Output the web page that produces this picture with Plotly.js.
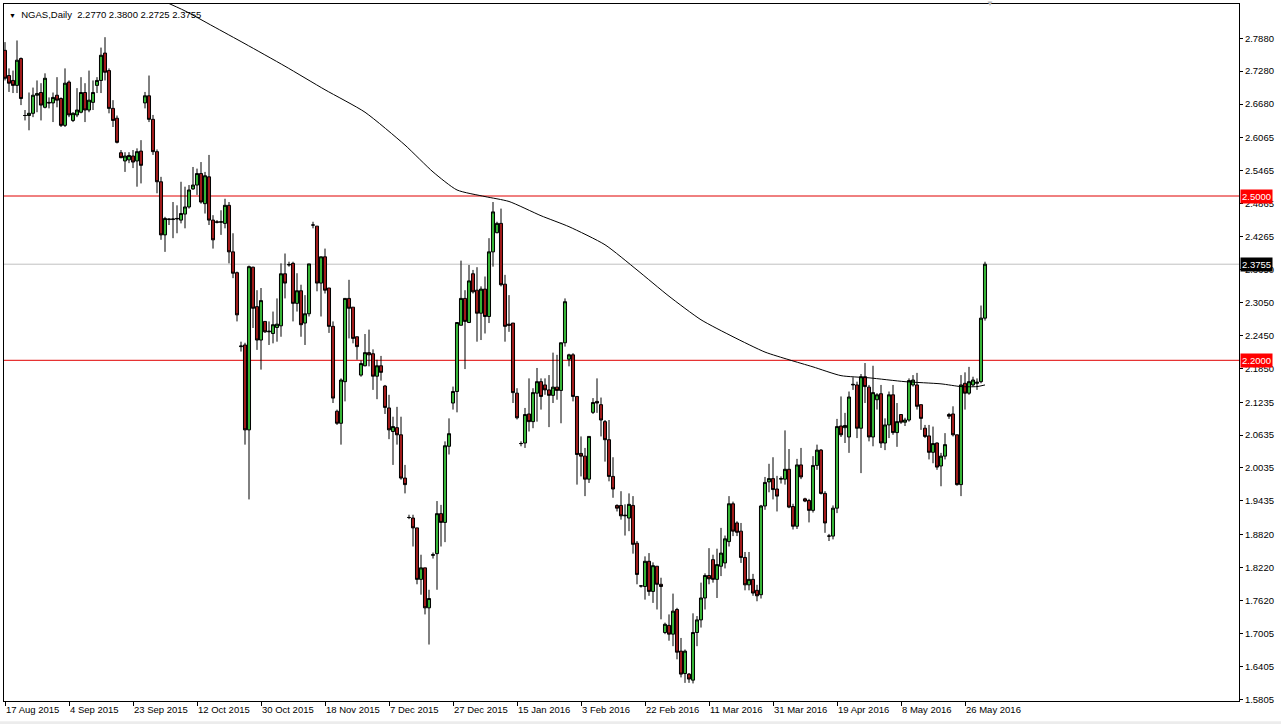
<!DOCTYPE html>
<html>
<head>
<meta charset="utf-8">
<script src="https://cdn.plot.ly/plotly-3.0.1.min.js"></script>
<style>
html,body{margin:0;padding:0;background:#fff;}
#chart{width:1281px;height:724px;}
</style>
</head>
<body>
<div id="chart"></div>
<script>
// ---- Data (NGAS, Daily) ----
const symbol = "NGAS,Daily";
const openP = [
2.766,2.720,2.711,2.702,2.751,2.647,2.647,2.651,2.684,2.689,
2.662,2.671,2.670,2.684,2.678,2.629,2.708,2.638,2.648,2.653,
2.689,2.657,2.671,2.702,2.711,2.761,2.729,2.660,2.642,2.579,
2.564,2.566,2.573,2.564,2.582,2.670,2.683,2.640,2.581,2.526,
2.429,2.457,2.457,2.458,2.456,2.467,2.480,2.513,2.520,2.541,
2.486,2.535,2.456,2.453,2.452,2.450,2.483,2.398,2.360,2.225,
2.228,2.073,2.370,2.298,2.237,2.271,2.252,2.249,2.260,2.263,
2.358,2.374,2.377,2.304,2.327,2.268,2.285,2.447,2.445,2.341,
2.389,2.332,2.262,2.107,2.085,2.161,2.313,2.297,2.243,2.173,
2.190,2.214,2.212,2.171,2.190,2.153,2.113,2.070,2.077,2.064,
1.985,1.913,1.912,1.894,1.800,1.821,1.748,1.844,1.847,1.920,
1.904,2.043,2.122,2.143,2.264,2.313,2.269,2.358,2.328,2.286,
2.330,2.280,2.398,2.433,2.450,2.339,2.266,2.268,2.140,2.048,
2.049,2.102,2.088,2.140,2.161,2.155,2.146,2.136,2.151,2.145,
2.232,2.202,2.210,2.134,2.030,2.025,1.983,2.105,2.125,2.119,
2.088,2.055,1.988,1.935,1.935,1.916,1.912,1.935,1.866,1.788,
1.787,1.833,1.778,1.824,1.791,1.703,1.716,1.700,1.745,1.669,
1.628,1.627,1.616,1.703,1.726,1.766,1.807,1.836,1.800,1.824,
1.830,1.869,1.938,1.903,1.888,1.840,1.790,1.800,1.780,1.772,
1.934,1.978,1.984,1.965,1.983,1.983,2.001,1.933,1.897,2.009,
1.947,1.944,1.926,2.008,2.036,1.957,1.879,1.879,1.930,2.080,
2.077,2.060,2.155,2.155,2.076,2.170,2.151,2.060,2.128,2.139,
2.049,2.082,2.137,2.068,2.101,2.087,2.091,2.155,2.155,2.119,
2.076,2.062,2.032,2.049,2.007,2.025,2.101,2.102,2.064,1.973,
2.158,2.140,2.155,2.158,2.161,2.2770
];
const highP = [
2.781,2.733,2.729,2.784,2.753,2.657,2.689,2.698,2.711,2.706,
2.724,2.680,2.689,2.717,2.680,2.733,2.711,2.653,2.697,2.717,
2.706,2.729,2.711,2.717,2.771,2.790,2.733,2.675,2.647,2.584,
2.580,2.580,2.584,2.587,2.602,2.690,2.720,2.648,2.585,2.535,
2.462,2.458,2.489,2.483,2.526,2.517,2.520,2.553,2.550,2.562,
2.544,2.575,2.465,2.456,2.474,2.495,2.489,2.432,2.362,2.234,
2.232,2.373,2.371,2.328,2.332,2.271,2.271,2.289,2.313,2.377,
2.395,2.380,2.380,2.359,2.338,2.319,2.376,2.453,2.445,2.389,
2.404,2.332,2.271,2.110,2.167,2.313,2.347,2.297,2.243,2.200,
2.248,2.256,2.220,2.201,2.208,2.155,2.137,2.097,2.115,2.097,
2.009,1.918,1.918,1.894,1.845,1.821,1.781,1.849,1.943,1.936,
2.052,2.094,2.152,2.269,2.382,2.328,2.374,2.365,2.370,2.335,
2.353,2.423,2.489,2.453,2.477,2.356,2.319,2.268,2.149,2.052,
2.113,2.167,2.149,2.186,2.167,2.167,2.173,2.214,2.210,2.232,
2.313,2.212,2.213,2.134,2.061,2.040,2.061,2.131,2.167,2.132,
2.091,2.091,2.023,1.937,1.961,1.937,1.957,1.952,1.870,1.789,
1.842,1.848,1.831,1.824,1.803,1.721,1.736,1.774,1.748,1.693,
1.672,1.629,1.738,1.733,1.794,1.811,1.857,1.845,1.856,1.894,
1.880,1.952,1.942,1.906,1.903,1.850,1.850,1.810,1.790,1.936,
1.987,2.011,2.023,1.989,1.988,2.072,2.038,1.938,2.020,2.040,
1.949,1.947,2.025,2.046,2.038,1.961,1.883,1.935,2.093,2.134,
2.104,2.143,2.169,2.161,2.175,2.195,2.155,2.190,2.140,2.155,
2.094,2.143,2.155,2.122,2.101,2.095,2.167,2.173,2.177,2.119,
2.082,2.082,2.079,2.050,2.031,2.067,2.104,2.116,2.064,2.173,
2.178,2.188,2.170,2.167,2.300,2.3800
];
const lowP = [
2.711,2.690,2.688,2.688,2.666,2.638,2.620,2.644,2.653,2.638,
2.660,2.660,2.635,2.662,2.626,2.626,2.644,2.635,2.644,2.651,
2.635,2.653,2.657,2.688,2.688,2.711,2.651,2.626,2.596,2.569,
2.544,2.560,2.551,2.517,2.523,2.660,2.635,2.575,2.505,2.420,
2.398,2.447,2.423,2.432,2.450,2.441,2.477,2.511,2.502,2.486,
2.468,2.447,2.404,2.450,2.429,2.441,2.377,2.350,2.271,2.216,
2.046,1.946,2.259,2.219,2.183,2.250,2.228,2.231,2.234,2.243,
2.313,2.371,2.271,2.289,2.243,2.228,2.280,2.441,2.326,2.280,
2.322,2.250,2.122,2.082,2.046,2.125,2.240,2.231,2.201,2.170,
2.189,2.189,2.146,2.129,2.163,2.102,2.056,2.009,2.046,1.982,
1.957,1.910,1.860,1.791,1.772,1.736,1.681,1.838,1.781,1.860,
1.868,2.028,2.110,2.105,2.264,2.184,2.268,2.322,2.234,2.237,
2.249,2.268,2.371,2.432,2.335,2.234,2.252,2.122,2.092,2.043,
2.040,2.070,2.076,2.088,2.110,2.137,2.078,2.122,2.128,2.085,
2.225,2.189,2.125,1.973,1.988,1.952,1.976,2.102,2.104,2.061,
2.015,1.979,1.949,1.924,1.909,1.880,1.888,1.847,1.791,1.785,
1.763,1.770,1.757,1.745,1.727,1.700,1.688,1.678,1.654,1.621,
1.611,1.611,1.610,1.678,1.712,1.745,1.791,1.794,1.766,1.806,
1.820,1.860,1.879,1.879,1.830,1.780,1.780,1.770,1.760,1.765,
1.927,1.959,1.946,1.924,1.975,1.973,1.930,1.891,1.892,1.983,
1.941,1.904,1.922,2.000,1.955,1.885,1.870,1.873,1.921,2.060,
2.049,2.031,2.146,2.058,1.994,2.122,2.052,2.043,2.110,2.040,
2.036,2.058,2.064,2.042,2.084,2.080,2.088,2.152,2.110,2.073,
2.058,2.019,2.012,2.000,1.970,2.019,2.093,2.061,1.971,1.952,
2.110,2.137,2.152,2.146,2.158,2.2725
];
const closeP = [
2.715,2.706,2.702,2.748,2.678,2.647,2.651,2.684,2.687,2.666,
2.715,2.670,2.680,2.675,2.629,2.706,2.648,2.651,2.657,2.689,
2.657,2.675,2.689,2.711,2.757,2.726,2.660,2.638,2.598,2.570,
2.573,2.574,2.562,2.581,2.556,2.683,2.640,2.581,2.526,2.429,
2.459,2.458,2.458,2.459,2.468,2.480,2.511,2.520,2.541,2.489,
2.537,2.456,2.420,2.452,2.453,2.483,2.398,2.359,2.283,2.226,
2.073,2.371,2.295,2.237,2.309,2.252,2.253,2.265,2.266,2.358,
2.341,2.375,2.304,2.327,2.265,2.285,2.376,2.447,2.341,2.389,
2.328,2.262,2.131,2.085,2.164,2.313,2.295,2.240,2.225,2.194,
2.214,2.210,2.171,2.190,2.178,2.114,2.073,2.079,2.064,1.985,
1.973,1.913,1.894,1.800,1.821,1.748,1.765,1.845,1.920,1.904,
2.044,2.066,2.143,2.269,2.313,2.271,2.345,2.325,2.286,2.330,
2.280,2.398,2.471,2.450,2.338,2.262,2.264,2.141,2.095,2.048,
2.101,2.088,2.141,2.161,2.134,2.146,2.136,2.151,2.145,2.232,
2.307,2.210,2.134,2.028,2.025,1.983,2.061,2.123,2.122,2.091,
2.055,1.988,1.965,1.930,1.916,1.917,1.937,1.864,1.809,1.788,
1.833,1.778,1.825,1.791,1.787,1.718,1.700,1.742,1.667,1.627,
1.669,1.618,1.703,1.726,1.766,1.807,1.801,1.800,1.827,1.848,
1.874,1.938,1.888,1.886,1.840,1.790,1.800,1.775,1.770,1.934,
1.977,1.984,1.964,1.952,1.984,2.001,1.932,1.897,2.009,1.987,
1.943,1.926,2.008,2.036,1.957,1.903,1.879,1.930,2.079,2.064,
2.081,2.133,2.156,2.076,2.170,2.152,2.060,2.141,2.137,2.049,
2.082,2.137,2.068,2.088,2.087,2.091,2.163,2.164,2.116,2.094,
2.061,2.032,2.048,2.005,2.025,2.046,2.098,2.064,1.973,2.155,
2.140,2.161,2.164,2.160,2.277,2.3755
];

// Moving average (at selected bars)
const maBars = [39,45,52,60,70,80,90,100,107,113,120,126,134,141,150,158,166,174,182,190,196,202,209,216,225,234,239,243,245];
const maVals = [2.858,2.838,2.810,2.778,2.737,2.694,2.653,2.593,2.544,2.511,2.499,2.490,2.464,2.444,2.411,2.365,2.317,2.274,2.243,2.215,2.201,2.188,2.172,2.168,2.161,2.157,2.152,2.152,2.155];

// Horizontal levels
const levels = [2.5000, 2.2000];

// Axis labels
const dateTickBars = [0,16,32,48,64,80,96,112,128,144,160,176,192,208,224,240];
const dateTickLabels = ["17 Aug 2015","4 Sep 2015","23 Sep 2015","12 Oct 2015","30 Oct 2015","18 Nov 2015","7 Dec 2015","27 Dec 2015","15 Jan 2016","3 Feb 2016","22 Feb 2016","11 Mar 2016","31 Mar 2016","19 Apr 2016","8 May 2016","26 May 2016"];
const priceTicks = [2.7880,2.7280,2.6680,2.6065,2.5465,2.4865,2.4265,2.3650,2.3050,2.2450,2.1850,2.1235,2.0635,2.0035,1.9435,1.8820,1.8220,1.7620,1.7005,1.6405,1.5805];

// ---- Build ----
const n = closeP.length;
const idx = Array.from({length:n}, (_, i) => i);
const last = n - 1;
const FONT = 'Liberation Sans, Arial, sans-serif';

const candle = {
  type: 'candlestick',
  x: idx, open: openP, high: highP, low: lowP, close: closeP,
  increasing: {line: {color: '#000000', width: 1}, fillcolor: '#36b436'},
  decreasing: {line: {color: '#000000', width: 1}, fillcolor: '#a01a1a'},
  whiskerwidth: 0,
  hoverinfo: 'skip',
  showlegend: false
};
const ma = {
  type: 'scatter', mode: 'lines',
  x: maBars, y: maVals,
  line: {color: '#000000', width: 1, shape: 'spline', smoothing: 0.6},
  hoverinfo: 'skip', showlegend: false
};

const bid = closeP[last];
const shapes = levels.map(v => ({
  type: 'line', xref: 'paper', x0: 0, x1: 1, yref: 'y', y0: v, y1: v,
  line: {color: '#e00000', width: 1}, layer: 'below'
}));
shapes.push({
  type: 'line', xref: 'paper', x0: 0, x1: 1, yref: 'y', y0: bid, y1: bid,
  line: {color: '#c0c0c0', width: 1}, layer: 'below'
});
// thin grey strip at the very bottom of the window
shapes.push({
  type: 'rect', xref: 'paper', x0: -0.01, x1: 1.05, yref: 'paper', y0: -0.034, y1: -0.029,
  fillcolor: '#ececec', line: {width: 0}, layer: 'below'
});

const fmt = v => v.toFixed(4);
const annotations = [];
levels.forEach(v => annotations.push({
  xref: 'paper', x: 1, xanchor: 'left', xshift: 1,
  yref: 'y', y: v, yanchor: 'middle',
  text: fmt(v), showarrow: false, bgcolor: '#ff0000', borderpad: 1,
  font: {family: FONT, size: 9.5, color: '#ffffff'}
}));
annotations.push({
  xref: 'paper', x: 1, xanchor: 'left', xshift: 1,
  yref: 'y', y: bid, yanchor: 'middle',
  text: fmt(bid), showarrow: false, bgcolor: '#000000', borderpad: 1,
  font: {family: FONT, size: 9.5, color: '#ffffff'}
});
annotations.push({
  xref: 'paper', x: 0, xanchor: 'left', xshift: 3,
  yref: 'paper', y: 1, yanchor: 'top', yshift: -3,
  text: '<span style="font-size:7px">\u25BC</span>  ' + symbol + '  ' + [openP[last], highP[last], lowP[last], closeP[last]].map(fmt).join(' '),
  showarrow: false, align: 'left',
  font: {family: FONT, size: 9.5, color: '#000000'}
});
annotations.push({
  xref: 'x', x: 246.3, xanchor: 'center',
  yref: 'paper', y: 1, yanchor: 'middle', yshift: 1,
  text: '\u25BC', showarrow: false,
  font: {family: FONT, size: 8, color: '#b8b8b8'}
});

const layout = {
  width: 1281, height: 724,
  margin: {l: 4, r: 42, t: 4, b: 23, pad: 0},
  paper_bgcolor: '#ffffff', plot_bgcolor: '#ffffff',
  showlegend: false,
  boxgap: 0.1, boxgroupgap: 0.15,
  font: {family: FONT, size: 9.5, color: '#000000'},
  xaxis: {
    type: 'linear',
    range: [-0.25, 308.5],
    tickvals: dateTickBars, ticktext: dateTickLabels,
    ticks: 'outside', ticklen: 4, tickcolor: '#000000', tickwidth: 1,
    ticklabelposition: 'outside right',
    showline: true, linecolor: '#000000', linewidth: 1, mirror: true,
    showgrid: false, zeroline: false,
    rangeslider: {visible: false},
    tickfont: {family: FONT, size: 9.5, color: '#000000'},
    fixedrange: true
  },
  yaxis: {
    side: 'right',
    range: [1.5779, 2.8506],
    tickvals: priceTicks, ticktext: priceTicks.map(fmt),
    ticks: 'outside', ticklen: 3, tickcolor: '#000000', tickwidth: 1,
    showline: true, linecolor: '#000000', linewidth: 1, mirror: true,
    showgrid: false, zeroline: false,
    tickfont: {family: FONT, size: 9.5, color: '#000000'},
    fixedrange: true
  },
  shapes: shapes,
  annotations: annotations
};

Plotly.newPlot('chart', [candle, ma], layout, {staticPlot: true, displayModeBar: false});
</script>
</body>
</html>
